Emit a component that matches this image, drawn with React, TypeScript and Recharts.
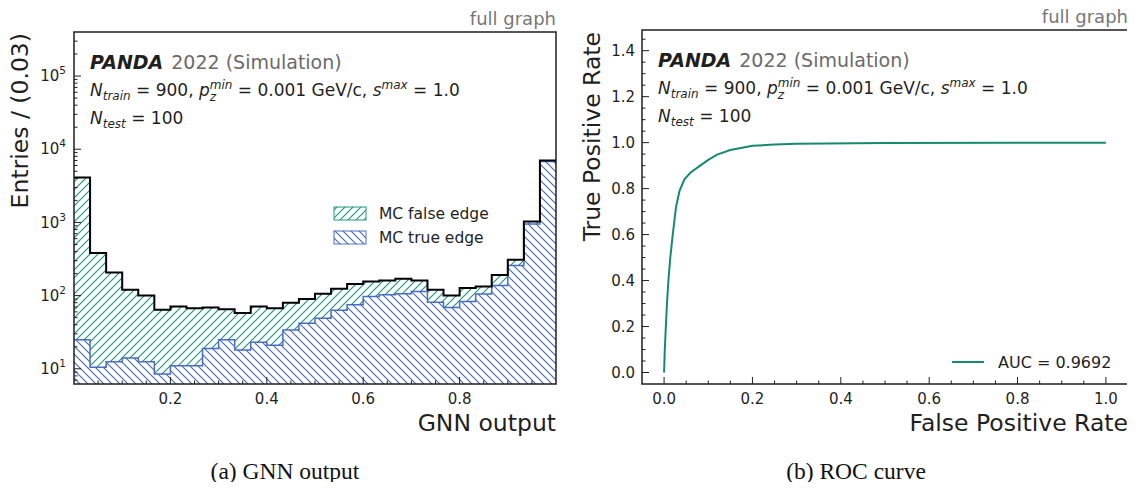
import React from 'react';
import { ComposedChart, LineChart, Line, Area, XAxis, YAxis } from 'recharts';

const FONT = '"DejaVu Sans", Verdana, sans-serif';
const SERIF = '"Liberation Serif", "DejaVu Serif", serif';
const INK = '#1f1f1f';
const GREEN = '#1f9a78';
const BLUE = '#4a6cc0';
const ROC_COLOR = '#178a6e';

// GNN output histogram: 30 bins on [0, 1], entries per bin
const binCount = 30;
const totalEntries = [
  4100, 382, 207, 120, 100, 64, 71, 67, 69, 65, 58, 71, 67, 80, 90,
  106, 124, 144, 156, 161, 170, 161, 120, 100, 127, 133, 192, 308, 1030, 7000,
];
const trueEntries = [
  25, 10.5, 12.5, 14, 12.5, 8.5, 11, 11, 19, 25, 18, 23, 21, 34, 42,
  49, 63, 75, 97, 103, 106, 114, 81, 69, 83, 105, 137, 258, 950, 6800,
];
const logMajor = [10, 100, 1000, 10000, 100000];
const logTicks = [
  7, 8, 9, 10, 20, 30, 40, 50, 60, 70, 80, 90,
  100, 200, 300, 400, 500, 600, 700, 800, 900,
  1000, 2000, 3000, 4000, 5000, 6000, 7000, 8000, 9000,
  10000, 20000, 30000, 40000, 50000, 60000, 70000, 80000, 90000,
  100000, 200000, 300000,
];
const gnnMajor = [0.2, 0.4, 0.6, 0.8];
const gnnTicks = [
  0.05, 0.1, 0.15, 0.2, 0.25, 0.3, 0.35, 0.4, 0.45, 0.5,
  0.55, 0.6, 0.65, 0.7, 0.75, 0.8, 0.85, 0.9, 0.95,
];

// ROC curve
const rocFpr = [0, 0.0016, 0.004, 0.0065, 0.0098, 0.014, 0.0196, 0.027, 0.035, 0.046, 0.06, 0.08, 0.1, 0.12, 0.15, 0.2, 0.25, 0.3, 0.5, 1.0];
const rocTpr = [0, 0.1, 0.2, 0.3, 0.4, 0.5, 0.6, 0.72, 0.79, 0.84, 0.87, 0.898, 0.925, 0.948, 0.968, 0.986, 0.992, 0.995, 0.998, 1.0];
const rateMajor = [0, 0.2, 0.4, 0.6, 0.8, 1.0, 1.2, 1.4];
const fprTicks = [
  0, 0.05, 0.1, 0.15, 0.2, 0.25, 0.3, 0.35, 0.4, 0.45, 0.5,
  0.55, 0.6, 0.65, 0.7, 0.75, 0.8, 0.85, 0.9, 0.95, 1.0,
];
const tprTicks = [
  0, 0.05, 0.1, 0.15, 0.2, 0.25, 0.3, 0.35, 0.4, 0.45, 0.5, 0.55, 0.6, 0.65, 0.7,
  0.75, 0.8, 0.85, 0.9, 0.95, 1.0, 1.05, 1.1, 1.15, 1.2, 1.25, 1.3, 1.35, 1.4, 1.45,
];

const histData = Array.from({ length: binCount + 1 }, (_, i) => {
  const k = Math.min(i, binCount - 1);
  return { x: i / binCount, total: totalEntries[k], trueEdge: trueEntries[k] };
});
const rocData = rocFpr.map((f, i) => ({ fpr: f, tpr: rocTpr[i] }));

// plot boxes (chart-local)
const L = { w: 580, h: 440, top: 32, left: 74, right: 24, xh: 56 };
const R = { w: 565, h: 440, top: 30, left: 72, right: 7, xh: 56 };
const L_BOTTOM = L.h - L.xh;
const R_BOTTOM = R.h - R.xh;
const R_OFFSET = 570;

const isMajor = (list: number[], v: number) => list.some(m => Math.abs(m - v) < 1e-6);

function logYTick(p: any) {
  const v = p.payload.value;
  const major = isMajor(logMajor, v);
  const exp = Math.round(Math.log10(v));
  return (
    <g>
      <line x1={L.left} x2={L.left + (major ? 7 : 3.5)} y1={p.y} y2={p.y} stroke={INK} strokeWidth={1} />
      {major && (
        <text x={L.left - 8} y={p.y} dy="0.35em" textAnchor="end" fontFamily={FONT} fontSize={15} fill={INK}>
          10<tspan dy={-7} fontSize={10.5}>{exp}</tspan>
        </text>
      )}
    </g>
  );
}

function gnnXTick(p: any) {
  const v = p.payload.value;
  const major = isMajor(gnnMajor, v);
  return (
    <g>
      <line x1={p.x} x2={p.x} y1={L_BOTTOM} y2={L_BOTTOM - (major ? 7 : 3.5)} stroke={INK} strokeWidth={1} />
      {major && (
        <text x={p.x} y={L_BOTTOM + 20} textAnchor="middle" fontFamily={FONT} fontSize={15} fill={INK}>
          {v.toFixed(1)}
        </text>
      )}
    </g>
  );
}

function rateYTick(p: any) {
  const v = p.payload.value;
  const major = isMajor(rateMajor, v);
  return (
    <g>
      <line x1={R.left} x2={R.left + (major ? 7 : 3.5)} y1={p.y} y2={p.y} stroke={INK} strokeWidth={1} />
      {major && (
        <text x={R.left - 7} y={p.y} dy="0.35em" textAnchor="end" fontFamily={FONT} fontSize={15} fill={INK}>
          {v.toFixed(1)}
        </text>
      )}
    </g>
  );
}

function rateXTick(p: any) {
  const v = p.payload.value;
  const major = isMajor(rateMajor, v);
  return (
    <g>
      <line x1={p.x} x2={p.x} y1={R_BOTTOM} y2={R_BOTTOM - (major ? 7 : 3.5)} stroke={INK} strokeWidth={1} />
      {major && (
        <text x={p.x} y={R_BOTTOM + 20} textAnchor="middle" fontFamily={FONT} fontSize={15} fill={INK}>
          {v.toFixed(1)}
        </text>
      )}
    </g>
  );
}

function Annotation({ x, top }: { x: number; top: number }) {
  const b1 = top + 37;
  const b2 = top + 64;
  const b3 = top + 92;
  return (
    <g fontFamily={FONT} fill={INK}>
      <text x={x} y={b1} fontSize={19}>
        <tspan fontWeight="bold" fontStyle="italic">PANDA</tspan>
        <tspan fill="#6a6a6a" dx={8}>2022 (Simulation)</tspan>
      </text>
      <text x={x} y={b2} fontSize={17}>
        <tspan fontStyle="italic">N</tspan>
        <tspan fontStyle="italic" fontSize={12} dy={4}>train</tspan>
        <tspan dy={-4}> = 900, </tspan>
        <tspan fontStyle="italic">p</tspan>
        <tspan fontStyle="italic" fontSize={12} dy={5}>z</tspan>
        <tspan fontStyle="italic" fontSize={12} dx={-6.3} dy={-12}>min</tspan>
        <tspan dy={7}> = 0.001 GeV/c, </tspan>
        <tspan fontStyle="italic">s</tspan>
        <tspan fontStyle="italic" fontSize={12} dy={-7}>max</tspan>
        <tspan dy={7}> = 1.0</tspan>
      </text>
      <text x={x} y={b3} fontSize={17}>
        <tspan fontStyle="italic">N</tspan>
        <tspan fontStyle="italic" fontSize={12} dy={4}>test</tspan>
        <tspan dy={-4}> = 100</tspan>
      </text>
    </g>
  );
}

export default function App() {
  const lx = L.left;
  const lr = L.w - L.right;
  const rx = R_OFFSET + R.left;
  const rr = R_OFFSET + R.w - R.right;

  return (
    <div style={{ position: 'relative', width: 1135, height: 490, margin: -8, background: '#fff' }}>
      {/* GNN OUTPUT HISTOGRAM */}
      <div style={{ position: 'absolute', left: 0, top: 0 }}>
        <ComposedChart width={L.w} height={L.h} data={histData}
          margin={{ top: L.top, right: L.right, bottom: 0, left: 0 }}>
          <XAxis dataKey="x" type="number" domain={[0, 1]} allowDataOverflow ticks={gnnTicks} interval={0}
            height={L.xh} axisLine={false} tickLine={false} tick={gnnXTick} />
          <YAxis scale="log" type="number" domain={[6.2, 400000]} allowDataOverflow ticks={logTicks} interval={0}
            width={L.left} axisLine={false} tickLine={false} tick={logYTick} />
          <Area dataKey="total" type="stepAfter" baseValue={6.2} fill="url(#hatchGreen)" fillOpacity={1}
            stroke="none" isAnimationActive={false} />
          <Area dataKey="trueEdge" type="stepAfter" baseValue={6.2} fill="url(#hatchBlue)" fillOpacity={1}
            stroke={BLUE} strokeWidth={1.5} isAnimationActive={false} />
          <Line dataKey="total" type="stepAfter" stroke="#000" strokeWidth={2} dot={false} isAnimationActive={false} />
        </ComposedChart>
      </div>

      {/* ROC CURVE */}
      <div style={{ position: 'absolute', left: R_OFFSET, top: 0 }}>
        <LineChart width={R.w} height={R.h} data={rocData}
          margin={{ top: R.top, right: R.right, bottom: 0, left: 0 }}>
          <XAxis dataKey="fpr" type="number" domain={[-0.05, 1.05]} allowDataOverflow ticks={fprTicks} interval={0}
            height={R.xh} axisLine={false} tickLine={false} tick={rateXTick} />
          <YAxis type="number" domain={[-0.05, 1.49]} allowDataOverflow ticks={tprTicks} interval={0}
            width={R.left} axisLine={false} tickLine={false} tick={rateYTick} />
          <Line dataKey="tpr" type="linear" stroke={ROC_COLOR} strokeWidth={2} dot={false} isAnimationActive={false} />
        </LineChart>
      </div>

      {/* FRAMES, LABELS, LEGENDS */}
      <svg width={1135} height={490} style={{ position: 'absolute', left: 0, top: 0, pointerEvents: 'none' }}>
        <defs>
          <pattern id="hatchGreen" patternUnits="userSpaceOnUse" width={8} height={8}>
            <rect width={8} height={8} fill="#fff" />
            <path d="M-2,2 L2,-2 M0,8 L8,0 M6,10 L10,6" fill="none" style={{ stroke: GREEN, strokeWidth: 1.2 }} />
          </pattern>
          <pattern id="hatchBlue" patternUnits="userSpaceOnUse" width={8} height={8}>
            <rect width={8} height={8} fill="#fff" />
            <path d="M-2,6 L2,10 M0,0 L8,8 M6,-2 L10,2" fill="none" style={{ stroke: BLUE, strokeWidth: 1.2 }} />
          </pattern>
        </defs>

        <rect x={lx} y={L.top} width={lr - lx} height={L_BOTTOM - L.top} fill="none" stroke={INK} strokeWidth={1.5} />
        <rect x={rx} y={R.top} width={rr - rx} height={R_BOTTOM - R.top} fill="none" stroke={INK} strokeWidth={1.5} />

        <g fontFamily={FONT} fill={INK}>
          <text x={lr} y={25} textAnchor="end" fontSize={18} fill="#777">full graph</text>
          <text x={rr} y={23} textAnchor="end" fontSize={18} fill="#777">full graph</text>

          <text transform="translate(27.5,33) rotate(-90)" textAnchor="end" fontSize={23.5}>Entries / (0.03)</text>
          <text x={lr} y={431} textAnchor="end" fontSize={23.5}>GNN output</text>
          <text transform="translate(599.5,32) rotate(-90)" textAnchor="end" fontSize={23.5}>True Positive Rate</text>
          <text x={rr} y={431} textAnchor="end" fontSize={23.5}>False Positive Rate</text>

          {/* histogram legend */}
          <rect x={334} y={207} width={32} height={13} fill="url(#hatchGreen)" stroke={GREEN} strokeWidth={1} />
          <text x={379} y={219} fontSize={15.5}>MC false edge</text>
          <rect x={334} y={231} width={32} height={13} fill="url(#hatchBlue)" stroke={BLUE} strokeWidth={1} />
          <text x={379} y={243} fontSize={15.5}>MC true edge</text>

          {/* roc legend */}
          <line x1={952} x2={984} y1={362} y2={362} stroke={ROC_COLOR} strokeWidth={2} />
          <text x={998} y={368} fontSize={16}>AUC = 0.9692</text>
        </g>

        <Annotation x={lx + 16} top={L.top} />
        <Annotation x={rx + 16} top={R.top} />

        <g fontFamily={SERIF} fontSize={23.5} fill="#111" textAnchor="middle">
          <text x={285} y={479}>(a)  GNN output</text>
          <text x={856} y={479}>(b)  ROC curve</text>
        </g>
      </svg>
    </div>
  );
}
